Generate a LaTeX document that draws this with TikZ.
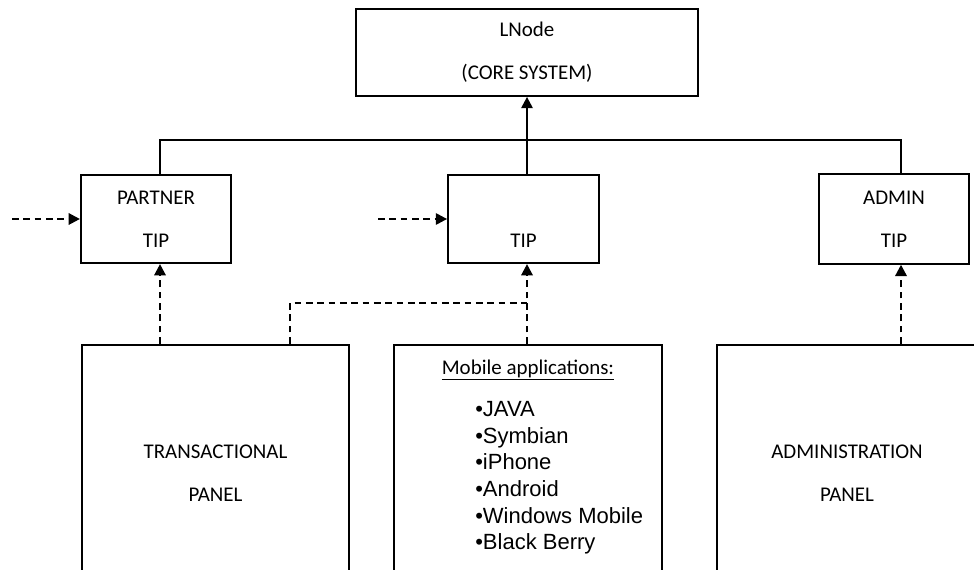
\documentclass[tikz,border=0pt]{standalone}
\usepackage{fontspec}
\setmainfont{Carlito}
\newfontfamily\listfont{Liberation Sans}
\usetikzlibrary{arrows.meta,positioning}

\begin{document}
\begin{tikzpicture}[x=0.75pt,y=-0.75pt,
    font=\fontsize{15.7}{32}\selectfont,
    dashline/.style={line width=1.7pt,dash pattern=on 5pt off 3.5pt},
    dasharrow/.style={dashline,-{Triangle[length=8.5pt,width=8.5pt]}}]

      \useasboundingbox (0,0) rectangle (974,570);
      \clip (0,0) rectangle (974,570);

      \begin{scope}[every node/.style={draw,rectangle,line width=1.6pt,align=center,inner sep=0pt}]
        \node[minimum width=256.5pt,minimum height=65pt] (lnode)  at (527,52.5)  {LNode\\(CORE SYSTEM)};
        \node[minimum width=112.5pt,minimum height=66pt] (ptip)   at (156,219)   {PARTNER\\TIP};
        \node[minimum width=113pt,minimum height=66pt]   (tip)    at (523.5,219) {\vphantom{TIP}\\TIP};
        \node[minimum width=112.5pt,minimum height=67pt] (atip)   at (894,219)   {ADMIN\\TIP};
        \node[minimum width=200pt,minimum height=193pt]  (tpanel) at (215.5,473.5) {TRANSACTIONAL\\PANEL};
        \node[minimum width=201pt,minimum height=193pt]  (mpanel) at (528,473.5) {};
        \node[minimum width=195pt,minimum height=193pt]  (apanel) at (847,473.5) {ADMINISTRATION\\PANEL};
      \end{scope}

      \node[anchor=base,inner sep=0pt] (mtitle) at (528,374) {\underline{Mobile applications:}};
      \node[anchor=north west,align=left,inner sep=0pt,
            font=\listfont\fontsize{16.5}{20}\selectfont] (mlist) at (475,401)
        {•JAVA\\•Symbian\\•iPhone\\•Android\\•Windows Mobile\\•Black Berry};

      % bus from the side TIPs to the core
      \coordinate (pbus) at (160,140);
      \coordinate (abus) at (901,140);
      \draw[line width=1.1pt] (pbus |- ptip.north) -- (pbus) -- (abus) -- (abus |- atip.north);
      \draw[line width=1.7pt,-{Triangle[length=8.5pt,width=8.5pt]}] (tip.north -| lnode.south) -- (lnode.south);

      % panels to TIPs
      \coordinate (tjoin) at (290,303);
      \draw[dasharrow] (pbus |- tpanel.north) -- (pbus |- ptip.south);
      \draw[dasharrow] (lnode.south |- mpanel.north) -- (lnode.south |- tip.south);
      \draw[dasharrow] (abus |- apanel.north) -- (abus |- atip.south);
      \draw[dashline] (tjoin |- tpanel.north) -- (tjoin) -- (tjoin -| lnode.south);

      % incoming links
      \coordinate (pin) at (12,219);
      \coordinate (tin) at (378,219);
      \draw[dasharrow] (pin) -- (pin -| ptip.west);
      \draw[dasharrow] (tin) -- (tin -| tip.west);

    \end{tikzpicture}
\end{document}
